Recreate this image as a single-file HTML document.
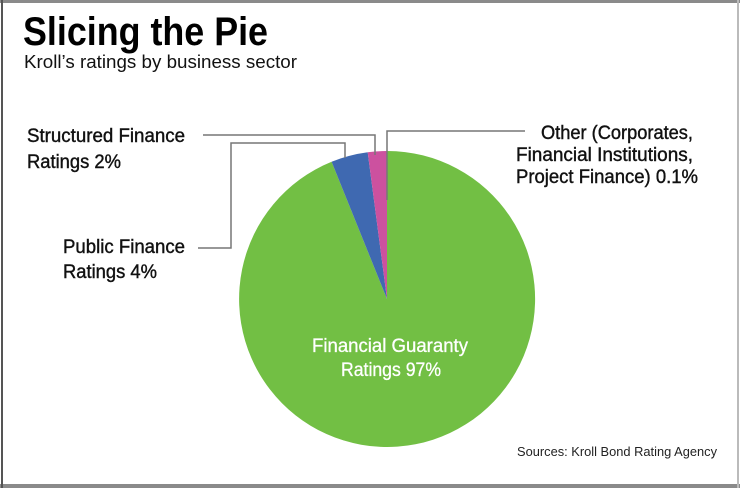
<!DOCTYPE html>
<html><head><meta charset="utf-8"><style>
html,body{margin:0;padding:0;background:#fff}
svg{display:block}
text{font-family:"Liberation Sans Narrow","Liberation Sans",sans-serif}
</style></head><body>
<svg width="740" height="488" viewBox="0 0 740 488" xmlns="http://www.w3.org/2000/svg">
<rect x="0" y="0" width="740" height="488" fill="#fff"/>
<rect x="0" y="0" width="740" height="3" fill="#8a8a8a"/>
<rect x="0" y="484" width="740" height="4" fill="#8a8a8a"/>
<rect x="1" y="0" width="2" height="488" fill="#555"/>
<rect x="737" y="0" width="2" height="488" fill="#bbb"/>
<text x="23" y="45" font-size="40" font-weight="bold" textLength="245" lengthAdjust="spacingAndGlyphs" fill="#000">Slicing the Pie</text>
<text x="24" y="68" font-size="18" style="font-family:'Liberation Sans',sans-serif" textLength="273" lengthAdjust="spacingAndGlyphs" fill="#111">Kroll’s ratings by business sector</text>
<path d="M387,299 L331.6,161.8 A148,148 0 1 0 387,151 Z" fill="#72bf44"/>
<path d="M387,299 L367.7,152.3 A148,148 0 0 0 331.6,161.8 Z" fill="#3f69b1"/>
<path d="M387,299 L387,151 A148,148 0 0 0 367.7,152.3 Z" fill="#cc519f"/>
<g stroke="#777" stroke-width="1.5" fill="none">
<polyline points="203,135 375,135 375,155"/>
<polyline points="198,248 231,248 231,143 345,143 345,158"/>
<polyline points="525,131 387,131 387,200"/>
</g>
<g font-size="19" fill="#111" stroke="#111" stroke-width="0.4">
<text x="27" y="142" textLength="158" lengthAdjust="spacingAndGlyphs">Structured Finance</text>
<text x="27" y="168" textLength="94" lengthAdjust="spacingAndGlyphs">Ratings 2%</text>
<text x="63" y="253" textLength="122" lengthAdjust="spacingAndGlyphs">Public Finance</text>
<text x="63" y="278" textLength="94" lengthAdjust="spacingAndGlyphs">Ratings 4%</text>
<text x="541" y="139" textLength="152" lengthAdjust="spacingAndGlyphs">Other (Corporates,</text>
<text x="516" y="161" textLength="177" lengthAdjust="spacingAndGlyphs">Financial Institutions,</text>
<text x="516" y="183" textLength="182" lengthAdjust="spacingAndGlyphs">Project Finance) 0.1%</text>
</g>
<g font-size="19" fill="#fff" stroke="#fff" stroke-width="0.3">
<text x="312" y="352" textLength="156" lengthAdjust="spacingAndGlyphs">Financial Guaranty</text>
<text x="341" y="376" textLength="100" lengthAdjust="spacingAndGlyphs">Ratings 97%</text>
</g>
<text x="517" y="456" font-size="13" style="font-family:'Liberation Sans',sans-serif" textLength="200" lengthAdjust="spacingAndGlyphs" fill="#222">Sources: Kroll Bond Rating Agency</text>
</svg>
</body></html>
